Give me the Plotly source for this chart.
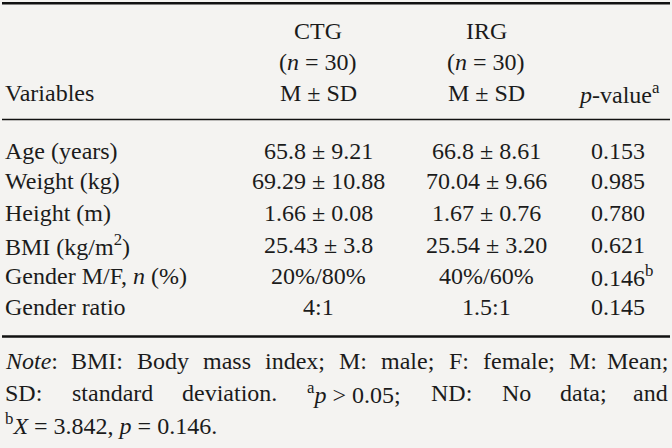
import plotly.graph_objects as go

# Table content
variables = ["Age (years)", "Weight (kg)", "Height (m)", "BMI (kg/m<sup>2</sup>)",
             "Gender M/F, <i>n</i> (%)", "Gender ratio"]
ctg = ["65.8 ± 9.21", "69.29 ± 10.88", "1.66 ± 0.08", "25.43 ± 3.8", "20%/80%", "4:1"]
irg = ["66.8 ± 8.61", "70.04 ± 9.66", "1.67 ± 0.76", "25.54 ± 3.20", "40%/60%", "1.5:1"]
p_values = ["0.153", "0.985", "0.780", "0.621", "0.146<sup>b</sup>", "0.145"]

header_ctg = ["CTG", "(<i>n</i> = 30)", "M ± SD"]
header_irg = ["IRG", "(<i>n</i> = 30)", "M ± SD"]

note_line1 = ["<i>Note</i>:", "BMI:", "Body", "mass", "index;", "M:", "male;", "F:",
              "female;", "M:", "Mean;"]
note_line2 = ["SD:", "standard", "deviation.", "<sup>a</sup><i>p</i> > 0.05;", "ND:",
              "No", "data;", "and"]
note_line3 = "<sup>b</sup><i>X</i> = 3.842, <i>p</i> = 0.146."

# layout positions (pixels)
W, H = 672, 448
FONT = "Liberation Serif"
SIZE = 24
INK = "#1b1b1b"
row_y = [150.5, 181, 212.5, 244.5, 275.5, 307]
head_y = [31, 62, 93]
x_var, x_ctg, x_irg, x_p = 3, 318, 486, 589
# word starts for the two justified note lines (last word is right-aligned)
line1_x = [3, 69, 135, 201, 263, 337, 379, 447, 481, 567]
line2_x = [3, 70, 180, 305, 429, 500, 558]

fig = go.Figure()
ann = []


def txt(x, y, s, anchor="center", size=SIZE):
    ann.append(dict(x=x, y=y, xref="x", yref="y", text=s, showarrow=False,
                    xanchor=anchor, yanchor="middle",
                    font=dict(family=FONT, size=size, color=INK)))


# header
for y, a, b in zip(head_y, header_ctg, header_irg):
    txt(x_ctg, y, a)
    txt(x_irg, y, b)
txt(x_var, head_y[2], "Variables", "left")
txt(576, head_y[2], "<i>p</i>-value<sup>a</sup>", "left")

# body
for y, v, c, i, p in zip(row_y, variables, ctg, irg, p_values):
    txt(x_var, y, v, "left")
    txt(x_ctg, y, c)
    txt(x_irg, y, i)
    txt(x_p, y, p, "left")

# note (justified lines placed word by word)
for x, w in zip(line1_x, note_line1[:-1]):
    txt(x, 361, w, "left")
txt(670, 361, note_line1[-1], "right")
for x, w in zip(line2_x, note_line2[:-1]):
    txt(x, 392.5, w, "left")
txt(670, 392.5, note_line2[-1], "right")
txt(3, 424, note_line3, "left")

# rules
rules = [(3.2, 2.6), (119.5, 1.3), (336.5, 2.6)]
shapes = [dict(type="line", xref="x", yref="y", x0=2, x1=670, y0=y, y1=y,
               line=dict(color="#111111", width=w)) for y, w in rules]

fig.update_layout(
    width=W, height=H,
    margin=dict(l=0, r=0, t=0, b=0),
    paper_bgcolor="#f4f3f1", plot_bgcolor="#f4f3f1",
    annotations=ann, shapes=shapes,
    showlegend=False,
)
fig.update_xaxes(range=[0, W], visible=False, fixedrange=True)
fig.update_yaxes(range=[H, 0], visible=False, fixedrange=True)

fig.write_html("out.html", config={"displayModeBar": False},
               post_script="document.body.style.margin='0';"
                           "document.body.style.overflow='hidden';"
                           "document.body.style.background='#f4f3f1';")
